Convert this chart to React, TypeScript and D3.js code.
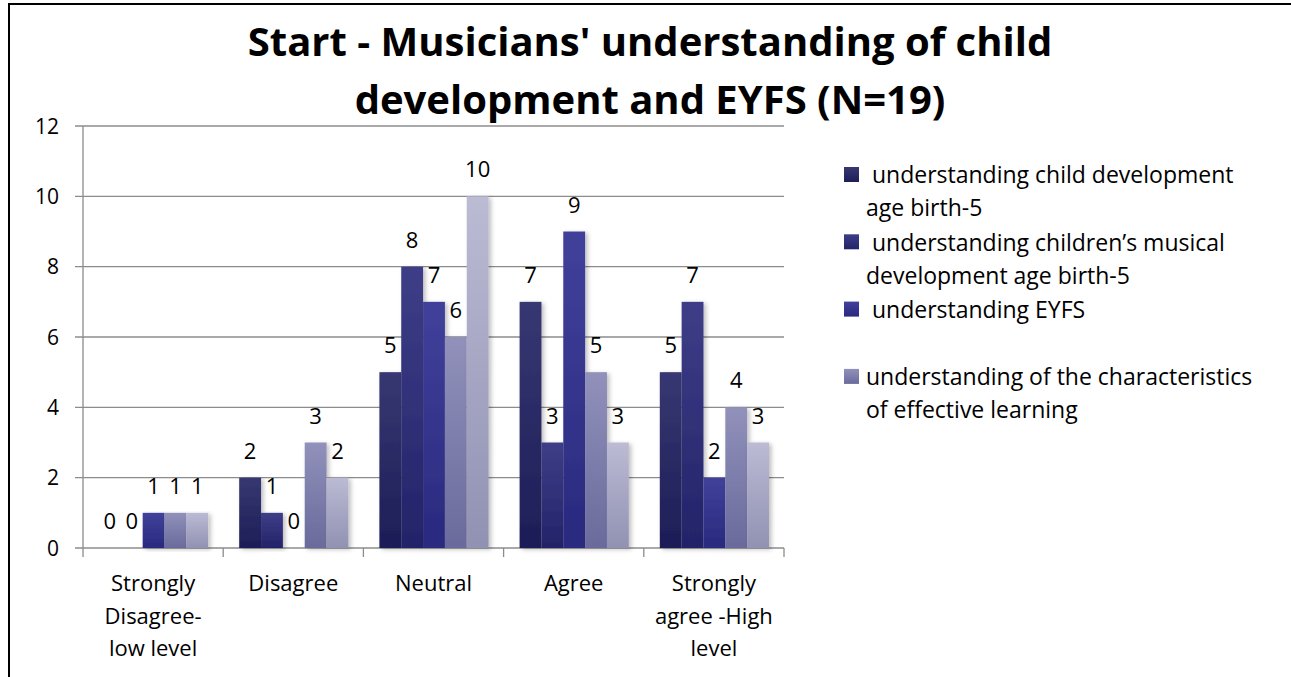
import React from "react";
import * as d3 from "d3";

const categories = [
  "Strongly\nDisagree-\nlow level",
  "Disagree",
  "Neutral",
  "Agree",
  "Strongly\nagree -High\nlevel",
];
const seriesChildDev = [0, 2, 5, 7, 5];
const seriesMusicalDev = [0, 1, 8, 3, 7];
const seriesEYFS = [1, 0, 7, 9, 2];
const seriesLearning = [1, 3, 6, 5, 4];
const seriesFifth = [1, 2, 10, 3, 3];
const allSeries = [seriesChildDev, seriesMusicalDev, seriesEYFS, seriesLearning, seriesFifth];
const legendLabels = [
  [" understanding child development", "age birth-5"],
  [" understanding children\u2019s musical", "development age birth-5"],
  [" understanding EYFS"],
  ["understanding of the characteristics", "of effective learning"],
];
const yTicks = [0, 2, 4, 6, 8, 10, 12];
const titleLines = ["Start - Musicians' understanding of child", "development and EYFS (N=19)"];

const gradients = [
  ["#373772", "#1d1d57"],
  ["#3e3e88", "#232369"],
  ["#41419b", "#29297f"],
  ["#9191bb", "#6a6a9c"],
  ["#bbbbd4", "#9191b3"],
];

const FONT = "'Open Sans', Lato, sans-serif";

export default function App() {
  const W = 1291, H = 677;
  const y = d3.scaleLinear().domain([0, 12]).range([548, 126]);
  const x0 = d3.scaleBand<string>().domain(categories).range([83, 784]).padding(0);
  const bw = x0.bandwidth();
  const x1 = d3
    .scaleBand<number>()
    .domain(allSeries.map((_, i) => i))
    .range([16, bw - 15])
    .padding(0);
  const gridColor = "#8c8c8c";

  return (
    <svg width={W} height={H} style={{ position: "absolute", left: 0, top: 0, background: "#fff" }}>
      <defs>
        {gradients.map((g, i) => (
          <linearGradient key={i} id={`g${i}`} x1="0" y1="0" x2="0" y2="1">
            <stop offset="0%" stopColor={g[0]} />
            <stop offset="100%" stopColor={g[1]} />
          </linearGradient>
        ))}
        <filter id="shadow" x="-20%" y="-5%" width="160%" height="115%">
          <feDropShadow dx="2.5" dy="1.5" stdDeviation="2" floodColor="#000" floodOpacity="0.25" />
        </filter>
      </defs>
      <rect x={0} y={0} width={W} height={H} fill="#fff" />
      {/* outer frame */}
      <line x1={8} x2={W} y1={4} y2={4} stroke="#000" strokeWidth={2} />
      <line x1={9} x2={9} y1={3} y2={H} stroke="#000" strokeWidth={2} />

      {/* title */}
      {titleLines.map((t, i) => (
        <text
          key={i}
          x={650}
          y={56 + i * 58}
          textAnchor="middle"
          fontFamily={FONT}
          fontWeight="bold"
          fontSize={40}
          fill="#000"
        >
          {t}
        </text>
      ))}

      {/* gridlines + y ticks */}
      {yTicks.map((t) => (
        <g key={t}>
          <line x1={75} x2={784} y1={y(t)} y2={y(t)} stroke={gridColor} strokeWidth={1.3} />
          <text
            x={59}
            y={y(t)}
            dy="0.36em"
            textAnchor="end"
            fontFamily={FONT}
            fontSize={21}
            fill="#000"
          >
            {t}
          </text>
        </g>
      ))}
      {/* y axis */}
      <line x1={83} x2={83} y1={y(12)} y2={y(0)} stroke={gridColor} strokeWidth={1.3} />
      {/* x ticks */}
      {categories.map((c) => (
        <line key={c} x1={x0(c)} x2={x0(c)} y1={y(0)} y2={y(0) + 9} stroke={gridColor} strokeWidth={1.3} />
      ))}
      <line x1={784} x2={784} y1={y(0)} y2={y(0) + 9} stroke={gridColor} strokeWidth={1.3} />

      {/* bars */}
      {categories.map((c, ci) => (
        <g key={c} transform={`translate(${x0(c)},0)`}>
          {allSeries.map((s, si) =>
            s[ci] > 0 ? (
              <rect
                key={si}
                x={x1(si)}
                y={y(s[ci])}
                width={x1.bandwidth()}
                height={y(0) - y(s[ci])}
                fill={`url(#g${si})`}
                filter="url(#shadow)"
              />
            ) : null
          )}
        </g>
      ))}
      {/* data labels */}
      {categories.map((c, ci) => (
        <g key={c} transform={`translate(${x0(c)},0)`}>
          {allSeries.map((s, si) => (
            <text
              key={si}
              x={(x1(si) as number) + x1.bandwidth() / 2}
              y={y(s[ci]) - 19}
              textAnchor="middle"
              fontFamily={FONT}
              fontSize={22}
              fill="#000"
            >
              {s[ci]}
            </text>
          ))}
        </g>
      ))}

      {/* category labels */}
      {categories.map((c) => (
        <text
          key={c}
          x={(x0(c) as number) + bw / 2}
          textAnchor="middle"
          fontFamily={FONT}
          fontSize={22}
          fill="#000"
        >
          {c.split("\n").map((line, li) => (
            <tspan key={li} x={(x0(c) as number) + bw / 2} y={591 + li * 32.5}>
              {line}
            </tspan>
          ))}
        </text>
      ))}

      {/* legend */}
      {legendLabels.map((lines, i) => {
        const cy = 175 + i * 67.3;
        return (
          <g key={i}>
            <rect x={844} y={cy - 8} width={15} height={15} fill={`url(#g${i})`} />
            {lines.map((l, li) => (
              <text
                key={li}
                x={866}
                y={cy + li * 33}
                dy="0.36em"
                fontFamily={FONT}
                fontSize={23}
                fill="#000"
                style={{ whiteSpace: "pre" }}
              >
                {l}
              </text>
            ))}
          </g>
        );
      })}
    </svg>
  );
}
